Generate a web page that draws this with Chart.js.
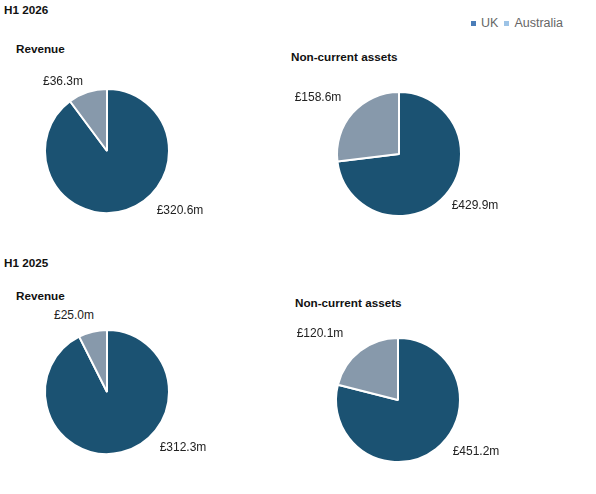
<!DOCTYPE html>
<html>
<head>
<meta charset="utf-8">
<script src="https://cdn.jsdelivr.net/npm/chart.js@4"></script>
<style>
  body { margin: 0; background: #fff; width: 596px; height: 494px; position: relative; overflow: hidden; font-family: "Liberation Sans", Arial, sans-serif; }
  .txt { position: absolute; white-space: nowrap; line-height: 1; }
  .year { font-weight: bold; font-size: 11.7px; color: #111; }
  .title { font-weight: bold; font-size: 11.7px; color: #111; }
  .lbl { font-size: 12px; color: #222; transform: translate(-50%, -50%); }
  .box { position: absolute; width: 140px; height: 140px; }
  .legend { position: absolute; left: 471px; top: 16px; font-size: 12.5px; color: #666; }
  .legend span.sq { display: inline-block; width: 5px; height: 5px; margin: 0 5px 1px 0; vertical-align: middle; }
</style>
</head>
<body>

<div class="txt year" style="left:4px;top:4px;">H1 2026</div>
<div class="txt year" style="left:4px;top:257px;">H1 2025</div>

<div class="legend" id="legend"></div>

<script>
// data
let regions = ['UK', 'Australia'];
let revenue2026 = [320.6, 36.3];
let assets2026 = [429.9, 158.6];
let revenue2025 = [312.3, 25.0];
let assets2025 = [451.2, 120.1];

let sliceColors = ['#1b5272', '#8799ab'];
let legendColors = ['#4a7db8', '#9dc3e6'];

// where each pie and its texts go on the page
let charts = [
  { title: 'Revenue', data: revenue2026, cx: 107, cy: 151, titleX: 16, titleY: 43, labels: [[180, 210], [63, 81]] },
  { title: 'Non-current assets', data: assets2026, cx: 399, cy: 154, titleX: 291, titleY: 51, labels: [[475, 205], [318, 97]] },
  { title: 'Revenue', data: revenue2025, cx: 107, cy: 392, titleX: 16, titleY: 290, labels: [[183, 447], [74, 315]] },
  { title: 'Non-current assets', data: assets2025, cx: 398, cy: 400, titleX: 295, titleY: 297, labels: [[476, 451], [320, 333]] }
];

function money(v) {
  return '£' + v.toFixed(1) + 'm';
}

function addText(cls, text, x, y) {
  let d = document.createElement('div');
  d.className = 'txt ' + cls;
  d.style.left = x + 'px';
  d.style.top = y + 'px';
  d.textContent = text;
  document.body.appendChild(d);
}

// legend
let legend = document.getElementById('legend');
for (let i = 0; i < regions.length; i++) {
  let sq = document.createElement('span');
  sq.className = 'sq';
  sq.style.background = legendColors[i];
  legend.appendChild(sq);
  let t = document.createElement('span');
  t.textContent = regions[i];
  t.style.marginRight = i == 0 ? '6px' : '0';
  legend.appendChild(t);
}

for (let i = 0; i < charts.length; i++) {
  let c = charts[i];
  addText('title', c.title, c.titleX, c.titleY);

  let box = document.createElement('div');
  box.className = 'box';
  box.style.left = (c.cx - 70) + 'px';
  box.style.top = (c.cy - 70) + 'px';
  let canvas = document.createElement('canvas');
  canvas.width = 140;
  canvas.height = 140;
  box.appendChild(canvas);
  document.body.appendChild(box);

  new Chart(canvas, {
    type: 'pie',
    data: {
      labels: regions,
      datasets: [{
        data: c.data,
        backgroundColor: sliceColors,
        borderColor: '#ffffff',
        borderWidth: 2,
        radius: 62
      }]
    },
    options: {
      responsive: false,
      animation: false,
      events: [],
      plugins: {
        legend: { display: false },
        tooltip: { enabled: false }
      }
    }
  });

  for (let j = 0; j < c.data.length; j++) {
    addText('lbl', money(c.data[j]), c.labels[j][0], c.labels[j][1]);
  }
}
</script>
</body>
</html>
